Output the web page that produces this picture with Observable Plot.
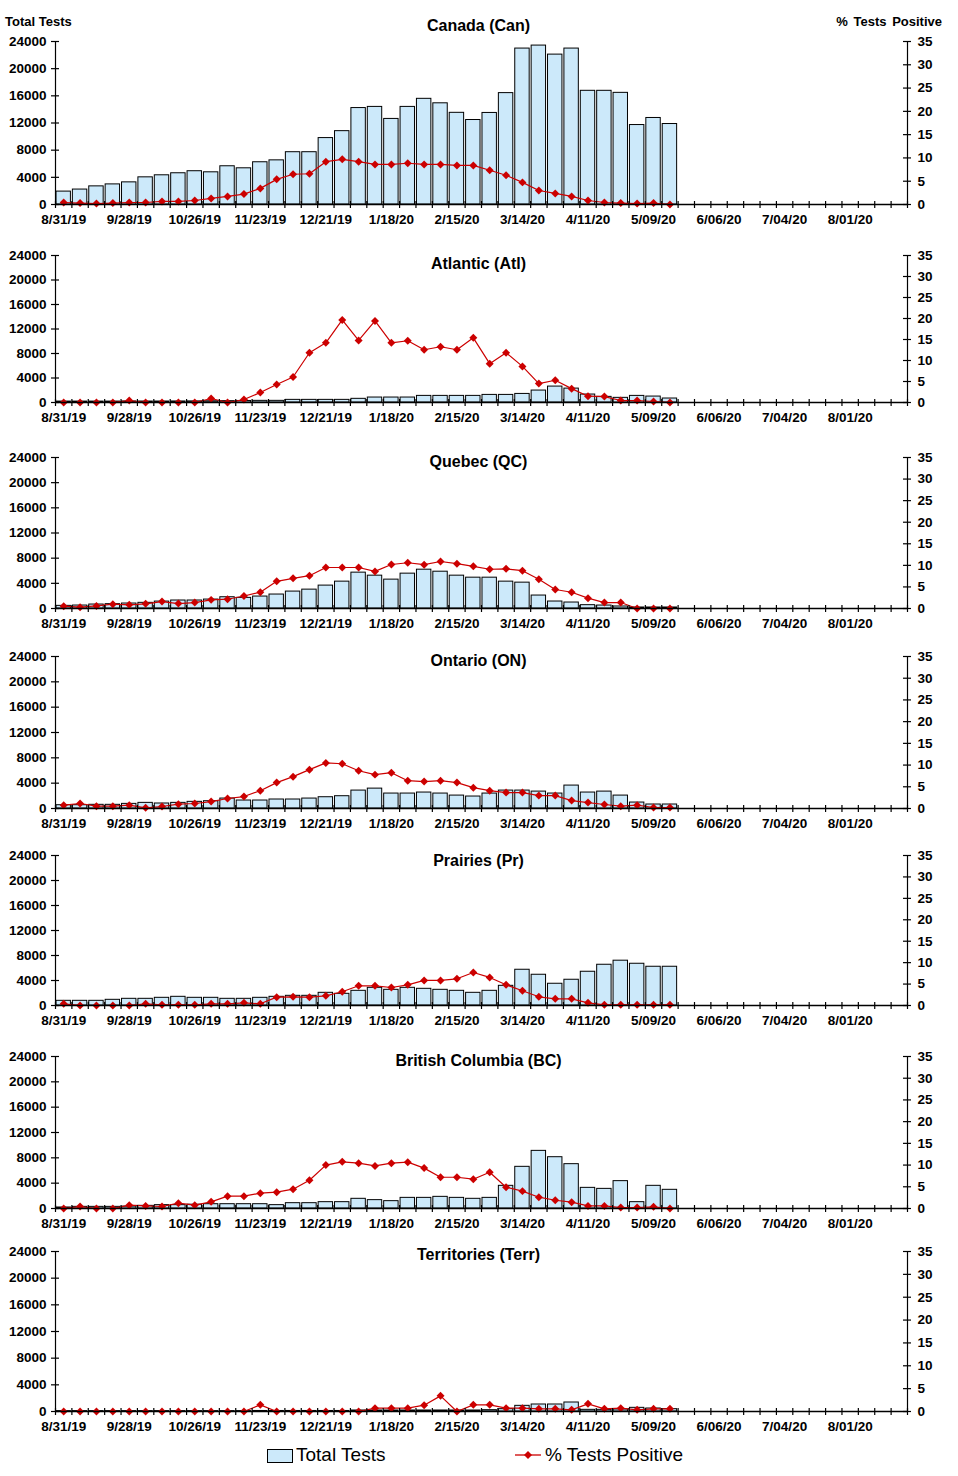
<!DOCTYPE html>
<html><head><meta charset="utf-8">
<script src="https://cdn.jsdelivr.net/npm/d3@7"></script>
<script src="https://cdn.jsdelivr.net/npm/@observablehq/plot@0.6"></script>
<style>
body{margin:0;background:#fff;font-family:"Liberation Sans",Arial,sans-serif;}
#wrap{position:relative;width:958px;height:1476px;overflow:hidden;}
.hdr{position:absolute;font-weight:bold;font-size:13px;line-height:16px;white-space:nowrap;}
.leg{position:absolute;font-size:19px;line-height:20px;white-space:nowrap;}
</style></head><body>
<div id="wrap"></div>
<script>
// ---- data ----
const weekLabels = ["8/31/19","9/28/19","10/26/19","11/23/19","12/21/19","1/18/20","2/15/20","3/14/20","4/11/20","5/09/20","6/06/20","7/04/20","8/01/20"];
const numWeeks = 52;
const leftTicks = [0,4000,8000,12000,16000,20000,24000];
const rightTicks = [0,5,10,15,20,25,30,35];

const canTests = [1900,2200,2670,2960,3260,4000,4300,4600,4900,4740,5630,5330,6220,6500,7700,7700,9780,10800,14200,14370,12600,14370,15560,14900,13500,12440,13480,16400,22960,23400,22070,22960,16740,16740,16440,11700,12740,11850];
const canPct = [0.43,0.3,0.2,0.3,0.43,0.43,0.65,0.65,0.86,1.3,1.73,2.23,3.46,5.4,6.5,6.6,9.2,9.7,9.2,8.6,8.6,8.86,8.6,8.6,8.4,8.4,7.35,6.27,4.75,3.0,2.38,1.73,0.86,0.43,0.3,0.2,0.3,0.0];

const atlTests = [150,150,150,150,170,160,160,170,180,200,220,250,270,270,430,430,430,430,600,810,810,810,1080,1080,1080,1080,1240,1240,1400,1950,2600,2270,1300,920,760,1080,970,650];
const atlPct = [0,0,0,0,0.47,0,0,0,0,0.95,0,0.7,2.37,4.27,6.08,11.85,14.2,19.67,14.77,19.43,14.2,14.7,12.56,13.27,12.56,15.4,9.24,11.85,8.6,4.5,5.3,3.3,1.5,1.4,0.47,0.47,0.24,0];

const qcTests = [420,470,630,690,790,900,1100,1270,1270,1420,1790,1690,1900,2220,2690,3000,3640,4270,5700,5220,4590,5540,6170,5850,5220,4900,4900,4270,4110,2060,1110,950,530,470,320,160,160,160];
const qcPct = [0.54,0.3,0.6,1.0,0.85,1.08,1.6,1.15,1.38,2.0,2.15,2.9,3.77,6.3,7.0,7.6,9.5,9.5,9.5,8.6,10.2,10.6,10.15,10.9,10.4,9.77,9.1,9.2,8.77,6.77,4.4,3.77,2.4,1.38,1.38,0,0,0];

const onTests = [520,520,580,580,730,890,790,890,1050,1150,1570,1260,1260,1420,1420,1570,1780,1940,2830,3140,2360,2360,2520,2360,2040,1890,2360,2830,2830,2670,2360,3620,2520,2670,2040,940,630,630];
const onPct = [0.76,1.15,0.53,0.53,0.76,0.15,0.46,1.0,1.15,1.6,2.3,2.75,4.1,5.96,7.33,8.94,10.5,10.3,8.7,7.8,8.25,6.4,6.2,6.4,5.96,4.8,4.1,3.67,3.67,2.98,2.98,1.83,1.37,0.92,0.53,0.76,0.23,0.23];

const prTests = [750,750,750,910,1070,1070,1230,1390,1230,1230,1070,1070,1230,1390,1550,1550,2030,1870,2350,2830,2510,2830,2670,2510,2350,2030,2350,3150,5720,4920,3480,4120,5400,6520,7170,6680,6200,6200];
const prPct = [0.4,0,0,0,0,0.4,0.16,0.16,0.16,0.4,0.4,0.62,0.4,1.95,2.03,1.95,2.26,3.2,4.6,4.6,4.2,4.83,5.85,5.85,6.23,7.7,6.55,4.83,3.43,2.03,1.56,1.56,0.62,0.16,0.16,0.16,0.16,0.16];

const bcTests = [160,260,260,260,300,420,530,530,600,680,680,680,680,530,840,840,1000,1000,1530,1320,1160,1680,1680,1840,1680,1530,1680,3580,6580,9100,8100,7000,3260,3100,4320,1000,3580,2950];
const bcPct = [0,0.46,0,0,0.77,0.6,0.46,1.23,0.77,1.53,2.84,2.84,3.53,3.76,4.45,6.5,10.0,10.74,10.44,9.8,10.44,10.67,9.3,7.2,7.2,6.75,8.36,4.9,4.0,2.6,1.9,1.46,0.6,0.6,0.23,0.23,0.38,0];

const terrTests = [60,60,60,60,60,60,60,60,60,60,60,60,80,80,80,80,80,80,150,150,150,150,150,150,150,150,200,350,850,1050,1050,1350,250,250,300,550,450,350];
const terrPct = [0,0,0,0,0,0,0,0,0,0,0,0,1.46,0,0,0,0,0,0,0.73,0.73,0.73,1.38,3.42,0,1.46,1.46,0.73,0.73,0.58,0.58,0.36,1.67,0.58,0.73,0.36,0.58,0.58];

const titles = ["Canada (Can)","Atlantic (Atl)","Quebec (QC)","Ontario (ON)","Prairies (Pr)","British Columbia (BC)","Territories (Terr)"];

// ---- layout ----
const BAR = "#CCE9FA", RED = "#CC0000";
const W = 958, LEFT = 55, RIGHT = 907, YMAX = 24000, PMAX = 35, K = YMAX / PMAX;
const MT = 22, MB = 30;
const layout = [
  {top: 41, bottom: 204, titleY: 25},
  {top: 255, bottom: 402, titleY: 263},
  {top: 457, bottom: 608, titleY: 461},
  {top: 656, bottom: 808, titleY: 660},
  {top: 855, bottom: 1005, titleY: 860},
  {top: 1056, bottom: 1208, titleY: 1060},
  {top: 1251, bottom: 1411, titleY: 1254}
];
const seriesTests = [canTests, atlTests, qcTests, onTests, prTests, bcTests, terrTests];
const seriesPct = [canPct, atlPct, qcPct, onPct, prPct, bcPct, terrPct];

const wrap = document.getElementById("wrap");
const labelIdx = weekLabels.map((_, k) => k * 4);
const boundaries = d3.range(-0.5, numWeeks, 1);

layout.forEach((L, p) => {
  const h = L.bottom - L.top;
  const pyY = YMAX / h;                 // data units per pixel (y)
  const pxX = numWeeks / (RIGHT - LEFT); // data units per pixel (x)
  const tests = seriesTests[p].map((v, i) => ({i, v}));
  const pct = seriesPct[p].map((v, i) => ({i, v}));
  const svg = Plot.plot({
    width: W, height: h + MT + MB,
    marginLeft: LEFT, marginRight: W - RIGHT, marginTop: MT, marginBottom: MB,
    style: {background: "transparent", overflow: "visible", fontFamily: "'Liberation Sans', Arial, sans-serif", fontSize: "13.5px", fontWeight: "bold", color: "#000"},
    x: {type: "linear", domain: [-0.5, numWeeks - 0.5], axis: null},
    y: {domain: [0, YMAX], axis: null},
    marks: [
      Plot.rectY(tests, {x1: d => d.i - 0.44, x2: d => d.i + 0.44, y1: 0, y2: "v", fill: BAR, stroke: "#000", strokeWidth: 1}),
      Plot.line(pct, {x: "i", y: d => d.v * K, stroke: RED, strokeWidth: 1.2}),
      Plot.dot(pct, {x: "i", y: d => d.v * K, symbol: "diamond2", r: 3.6, fill: RED, stroke: "none"}),
      Plot.ruleX([-0.5, numWeeks - 0.5], {y1: 0, y2: YMAX, stroke: "#000", strokeWidth: 1.2}),
      Plot.ruleY([0], {stroke: "#000", strokeWidth: 1.6}),
      Plot.ruleX(boundaries, {y1: -4 * pyY, y2: 3 * pyY, stroke: "#000", strokeWidth: 1.2}),
      Plot.ruleY(leftTicks, {x1: -0.5 - 4 * pxX, x2: -0.5 + 4 * pxX, stroke: "#000", strokeWidth: 1.2}),
      Plot.ruleY(rightTicks.map(t => t * K), {x1: numWeeks - 0.5 - 4 * pxX, x2: numWeeks - 0.5 + 4 * pxX, stroke: "#000", strokeWidth: 1.2}),
      Plot.axisY(leftTicks, {anchor: "left", label: null, tickSize: 0, tickPadding: 9, tickFormat: d => String(d)}),
      Plot.axisY(rightTicks.map(t => t * K), {anchor: "right", label: null, tickSize: 0, tickPadding: 10, tickFormat: d => String(Math.round(d / K))}),
      Plot.axisX(labelIdx, {anchor: "bottom", label: null, tickSize: 0, tickPadding: 10, tickFormat: d => weekLabels[Math.round(d / 4)]}),
      Plot.text([titles[p]], {frameAnchor: "top", lineAnchor: "middle", dx: -3, dy: L.titleY - L.top, fontSize: 16, fontWeight: "bold"})
    ]
  });
  svg.style.position = "absolute";
  svg.style.left = "0px";
  svg.style.top = (L.top - MT) + "px";
  wrap.appendChild(svg);
});

// headers
const h1 = document.createElement("div");
h1.className = "hdr"; h1.textContent = "Total Tests";
h1.style.left = "5px"; h1.style.top = "14px";
wrap.appendChild(h1);
const h2 = document.createElement("div");
h2.className = "hdr"; h2.textContent = "% Tests Positive";
h2.style.right = "16px"; h2.style.top = "14px"; h2.style.wordSpacing = "2px";
wrap.appendChild(h2);

// legend
const legBox = document.createElement("div");
Object.assign(legBox.style, {position: "absolute", left: "267px", top: "1449px", width: "24px", height: "12px", background: BAR, border: "1px solid #000"});
wrap.appendChild(legBox);
const t1 = document.createElement("div");
t1.className = "leg"; t1.textContent = "Total Tests";
t1.style.left = "296px"; t1.style.top = "1445px";
wrap.appendChild(t1);
const ns = "http://www.w3.org/2000/svg";
const ls = document.createElementNS(ns, "svg");
ls.setAttribute("width", "30"); ls.setAttribute("height", "14");
Object.assign(ls.style, {position: "absolute", left: "513px", top: "1448px"});
ls.innerHTML = `<line x1="2" y1="7" x2="28" y2="7" stroke="${RED}" stroke-width="1.3"/><path d="M15,3 L19,7 L15,11 L11,7 Z" fill="${RED}"/>`;
wrap.appendChild(ls);
const t2 = document.createElement("div");
t2.className = "leg"; t2.textContent = "% Tests Positive";
t2.style.left = "545px"; t2.style.top = "1445px";
wrap.appendChild(t2);
</script>
</body></html>
